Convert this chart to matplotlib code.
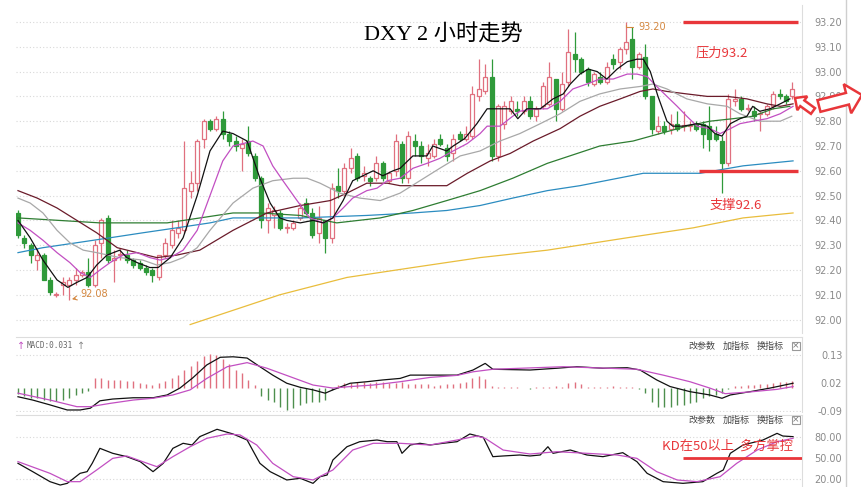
import matplotlib
matplotlib.use("Agg")
import matplotlib.pyplot as plt
from matplotlib.patches import FancyArrow, Rectangle
from matplotlib.transforms import IdentityTransform

plt.rcParams['font.family'] = ['DejaVu Sans', 'Noto Sans CJK SC']
CJK = ['Noto Sans CJK SC', 'DejaVu Sans']

# 2h candles, oldest first (open, high, low, close)
opens = [92.43, 92.33, 92.30, 92.24, 92.26, 92.16, 92.10, 92.14, 92.14, 92.16,
         92.18, 92.19, 92.14, 92.31, 92.41, 92.24, 92.26, 92.26, 92.24, 92.23,
         92.21, 92.20, 92.17, 92.26, 92.30, 92.35, 92.36, 92.52, 92.55, 92.73,
         92.80, 92.77, 92.81, 92.75, 92.72, 92.69, 92.72, 92.66, 92.57, 92.40,
         92.42, 92.43, 92.37, 92.37, 92.41, 92.47, 92.43, 92.35, 92.40, 92.33,
         92.54, 92.52, 92.61, 92.66, 92.58, 92.57, 92.57, 92.63, 92.56, 92.60,
         92.71, 92.57, 92.72, 92.70, 92.65, 92.66, 92.73, 92.69, 92.67, 92.75,
         92.73, 92.74, 92.90, 92.92, 92.98, 92.66, 92.79, 92.84, 92.85, 92.84,
         92.88, 92.82, 92.86, 92.87, 92.97, 92.85, 92.96, 93.07, 93.05, 93.01,
         92.95, 92.98, 92.96, 93.05, 93.04, 93.09, 93.13, 93.02, 93.06, 92.90,
         92.76, 92.78, 92.77, 92.79, 92.78, 92.78, 92.79, 92.79, 92.78, 92.75,
         92.72, 92.63, 92.88, 92.89, 92.85, 92.84, 92.83, 92.83, 92.86, 92.91,
         92.90, 92.90]
highs = [92.44, 92.34, 92.31, 92.29, 92.27, 92.17, 92.11, 92.17, 92.17, 92.21,
         92.20, 92.25, 92.32, 92.41, 92.42, 92.28, 92.29, 92.28, 92.25, 92.24,
         92.22, 92.21, 92.26, 92.33, 92.40, 92.40, 92.72, 92.60, 92.73, 92.81,
         92.81, 92.82, 92.84, 92.76, 92.74, 92.73, 92.78, 92.67, 92.58, 92.47,
         92.46, 92.44, 92.39, 92.40, 92.47, 92.49, 92.45, 92.46, 92.40, 92.55,
         92.61, 92.63, 92.69, 92.67, 92.62, 92.58, 92.66, 92.64, 92.60, 92.75,
         92.72, 92.76, 92.75, 92.72, 92.71, 92.73, 92.75, 92.71, 92.75, 92.76,
         92.78, 92.94, 93.05, 93.03, 93.05, 92.87, 92.88, 92.90, 92.88, 92.90,
         92.90, 92.86, 92.96, 93.04, 92.97, 93.00, 93.17, 93.16, 93.06, 93.02,
         93.00, 93.00, 93.04, 93.07, 93.10, 93.20, 93.18, 93.08, 93.11, 92.90,
         92.82, 92.80, 92.83, 92.84, 92.84, 92.80, 92.80, 92.80, 92.86, 92.78,
         92.74, 92.91, 92.93, 92.90, 92.87, 92.86, 92.84, 92.87, 92.92, 92.93,
         92.91, 92.96]
lows = [92.33, 92.29, 92.23, 92.20, 92.16, 92.10, 92.09, 92.10, 92.08, 92.14,
        92.17, 92.13, 92.13, 92.25, 92.23, 92.15, 92.24, 92.23, 92.21, 92.20,
        92.18, 92.15, 92.16, 92.25, 92.29, 92.33, 92.35, 92.49, 92.52, 92.69,
        92.76, 92.76, 92.73, 92.70, 92.68, 92.60, 92.66, 92.56, 92.37, 92.35,
        92.37, 92.36, 92.35, 92.36, 92.40, 92.42, 92.33, 92.31, 92.27, 92.31,
        92.49, 92.50, 92.59, 92.56, 92.56, 92.54, 92.56, 92.56, 92.55, 92.58,
        92.55, 92.55, 92.66, 92.63, 92.62, 92.65, 92.70, 92.64, 92.64, 92.72,
        92.72, 92.73, 92.88, 92.91, 92.64, 92.64, 92.77, 92.83, 92.82, 92.83,
        92.81, 92.80, 92.85, 92.86, 92.80, 92.84, 92.94, 93.00, 92.99, 92.94,
        92.94, 92.95, 92.95, 93.01, 93.01, 93.07, 92.97, 93.01, 92.89, 92.75,
        92.75, 92.75, 92.75, 92.76, 92.76, 92.76, 92.76, 92.69, 92.68, 92.72,
        92.51, 92.62, 92.86, 92.84, 92.84, 92.80, 92.76, 92.82, 92.85, 92.89,
        92.87, 92.89]
closes = [92.34, 92.31, 92.26, 92.26, 92.16, 92.11, 92.101, 92.15, 92.16, 92.18,
          92.19, 92.14, 92.30, 92.40, 92.24, 92.25, 92.261, 92.24, 92.22, 92.21,
          92.19, 92.18, 92.26, 92.31, 92.36, 92.37, 92.53, 92.55, 92.72, 92.80,
          92.77, 92.81, 92.75, 92.72, 92.70, 92.71, 92.67, 92.57, 92.40, 92.45,
          92.44, 92.37, 92.371, 92.39, 92.45, 92.43, 92.34, 92.41, 92.33, 92.53,
          92.52, 92.61, 92.65, 92.57, 92.59, 92.56, 92.63, 92.57, 92.59, 92.72,
          92.57, 92.74, 92.70, 92.66, 92.67, 92.71, 92.71, 92.66, 92.73, 92.73,
          92.75, 92.91, 92.93, 92.98, 92.66, 92.86, 92.86, 92.88, 92.84, 92.88,
          92.82, 92.85, 92.94, 92.98, 92.85, 92.95, 93.08, 93.05, 93.00, 92.96,
          92.99, 92.96, 93.02, 93.03, 93.09, 93.12, 93.02, 93.07, 92.90, 92.77,
          92.78, 92.76, 92.79, 92.77, 92.781, 92.785, 92.77, 92.75, 92.73, 92.73,
          92.63, 92.89, 92.89, 92.85, 92.851, 92.82, 92.831, 92.86, 92.91, 92.90,
          92.88, 92.93]

# moving averages: (candle index, price)
ma5 = [(0, 92.40), (1.9, 92.33), (3.9, 92.24), (6.1, 92.16), (7.8, 92.13), (9.2, 92.15),
       (10.8, 92.17), (12.3, 92.22), (13.9, 92.26), (15.9, 92.28), (17.0, 92.25),
       (18.6, 92.23), (20.6, 92.21), (21.9, 92.21), (23.8, 92.25), (25.8, 92.33),
       (28.0, 92.50), (30.0, 92.68), (32.0, 92.76), (33.6, 92.75), (35.8, 92.72),
       (37.8, 92.57), (39.4, 92.47), (40.9, 92.41), (42.0, 92.40), (44.1, 92.39),
       (46.1, 92.40), (47.7, 92.39), (49.2, 92.41), (50.8, 92.48), (52.3, 92.56),
       (53.9, 92.58), (55.5, 92.60), (57.0, 92.58), (58.6, 92.60), (59.7, 92.61),
       (61.7, 92.66), (63.9, 92.66), (64.8, 92.70), (67.0, 92.68), (68.0, 92.70),
       (69.8, 92.73), (71.7, 92.79), (73.3, 92.85), (75.3, 92.85), (76.9, 92.85),
       (78.1, 92.81), (79.5, 92.85), (81.6, 92.85), (83.6, 92.89), (85.2, 92.91),
       (86.3, 92.95), (87.8, 92.99), (89.1, 93.01), (90.5, 93.00), (92.0, 92.97),
       (93.6, 93.01), (95.2, 93.04), (96.7, 93.05), (97.7, 93.05), (98.8, 93.00),
       (100.0, 92.90), (101.4, 92.80), (102.3, 92.78), (103.9, 92.78), (106.1, 92.79),
       (107.7, 92.78), (108.9, 92.75), (110.0, 92.74), (111.3, 92.79), (112.8, 92.81),
       (113.9, 92.82), (114.8, 92.86), (115.9, 92.84), (117.5, 92.85), (119.1, 92.87),
       (120.6, 92.89)]
ma10 = [(0, 92.39), (1.9, 92.36), (3.9, 92.32), (6.1, 92.27), (8.1, 92.23), (9.7, 92.19),
        (11.3, 92.17), (12.8, 92.20), (14.4, 92.23), (16.4, 92.26), (18.6, 92.27),
        (20.6, 92.25), (22.2, 92.24), (23.8, 92.25), (25.8, 92.28), (28.0, 92.36),
        (30.0, 92.50), (32.0, 92.64), (33.6, 92.70), (35.2, 92.71), (36.7, 92.72),
        (38.3, 92.70), (39.8, 92.62), (41.4, 92.56), (43.6, 92.48), (45.6, 92.41),
        (47.7, 92.39), (49.2, 92.41), (50.8, 92.45), (52.3, 92.49), (54.5, 92.52),
        (56.1, 92.53), (57.7, 92.56), (59.7, 92.57), (61.7, 92.61), (63.9, 92.63),
        (65.9, 92.65), (68.0, 92.68), (70.2, 92.71), (72.2, 92.75), (73.3, 92.78),
        (75.3, 92.78), (77.3, 92.82), (78.4, 92.84), (80.5, 92.85), (82.7, 92.85),
        (84.7, 92.88), (86.7, 92.93), (88.9, 92.95), (90.9, 92.97), (93.0, 92.97),
        (95.2, 92.99), (96.7, 92.99), (98.3, 92.98), (99.8, 92.94), (101.4, 92.90),
        (103.0, 92.86), (104.5, 92.82), (106.1, 92.78), (108.1, 92.77), (109.7, 92.75),
        (111.3, 92.77), (112.8, 92.79), (114.8, 92.80), (117.0, 92.81), (119.1, 92.83),
        (121.1, 92.86)]
ma20 = [(0, 92.49), (1.9, 92.47), (3.9, 92.43), (6.1, 92.36), (8.1, 92.31), (10.2, 92.28),
        (12.3, 92.27), (15.9, 92.25), (19.5, 92.24), (21.7, 92.22), (23.8, 92.23),
        (25.8, 92.25), (28.0, 92.29), (30.0, 92.36), (33.6, 92.47), (36.7, 92.53),
        (39.8, 92.56), (43.0, 92.57), (45.2, 92.57), (47.2, 92.55), (50.3, 92.51),
        (53.4, 92.49), (56.6, 92.48), (59.7, 92.51), (62.8, 92.56), (65.9, 92.61),
        (69.1, 92.66), (72.2, 92.68), (75.3, 92.72), (78.4, 92.75), (81.6, 92.79),
        (84.7, 92.83), (87.8, 92.88), (90.9, 92.91), (94.1, 92.93), (97.2, 92.94),
        (99.2, 92.95), (101.4, 92.93), (104.5, 92.89), (107.7, 92.87), (110.8, 92.86),
        (112.8, 92.83), (115.9, 92.80), (119.1, 92.80), (120.9, 92.82)]
ma30 = [(0, 92.52), (3.0, 92.49), (6.1, 92.45), (9.2, 92.40), (12.3, 92.35), (15.5, 92.29),
        (18.6, 92.27), (21.7, 92.25), (24.8, 92.26), (28.4, 92.28), (33.6, 92.36),
        (38.9, 92.43), (44.1, 92.46), (48.8, 92.48), (51.4, 92.51), (54.5, 92.55),
        (57.7, 92.55), (59.7, 92.54), (67.0, 92.54), (70.2, 92.59), (73.8, 92.64),
        (76.9, 92.67), (80.5, 92.72), (84.7, 92.77), (87.8, 92.82), (90.9, 92.86),
        (94.1, 92.89), (97.2, 92.92), (99.2, 92.93), (101.4, 92.92), (104.5, 92.91),
        (107.7, 92.90), (110.8, 92.90), (113.9, 92.89), (117.0, 92.87), (119.1, 92.86),
        (121.1, 92.87)]
ma60 = [(0, 92.41), (12.8, 92.39), (23.3, 92.39), (33.6, 92.43), (37.8, 92.43),
        (44.1, 92.42), (49.8, 92.39), (56.6, 92.41), (61.7, 92.44), (67.0, 92.48),
        (72.2, 92.52), (77.3, 92.57), (82.7, 92.63), (90.9, 92.70), (96.1, 92.72),
        (100.3, 92.75), (104.5, 92.78), (108.1, 92.80), (111.7, 92.81), (114.8, 92.82),
        (118.0, 92.85), (120.6, 92.86)]
ma120 = [(0, 92.27), (3.9, 92.29), (9.2, 92.31), (14.4, 92.33), (19.5, 92.35),
         (24.8, 92.37), (30.0, 92.39), (33.6, 92.41), (44.1, 92.41), (54.5, 92.42),
         (61.7, 92.43), (67.0, 92.44), (72.2, 92.46), (77.3, 92.49), (82.7, 92.52),
         (87.8, 92.54), (97.7, 92.59), (106.6, 92.59), (113.3, 92.62), (121.1, 92.64)]
ma250 = [(26.9, 91.98), (40.9, 92.10), (51.4, 92.17), (61.7, 92.21), (72.2, 92.25),
         (82.7, 92.28), (95.2, 92.33), (105.5, 92.37), (113.3, 92.41), (121.1, 92.43)]

# MACD histogram, one bar per candle
macd_hist = [-0.025, -0.03, -0.04, -0.04, -0.047, -0.05, -0.05, -0.047, -0.04, -0.027,
             -0.02, -0.012, 0.04, 0.04, 0.033, 0.033, 0.033, 0.027, 0.027, 0.02,
             0.016, 0.013, 0.02, 0.027, 0.04, 0.053, 0.073, 0.087, 0.107, 0.127,
             0.133, 0.13, 0.113, 0.093, 0.073, 0.06, 0.033, 0.013, -0.033, -0.047,
             -0.053, -0.073, -0.087, -0.08, -0.067, -0.06, -0.053, -0.053, -0.047, -0.007,
             0.013, 0.02, 0.02, 0.022, 0.022, 0.02, 0.022, 0.022, 0.02, 0.02,
             0.022, 0.018, 0.015, 0.018, 0.015, 0.01, 0.012, 0.015, 0.018, 0.02,
             0.025, 0.04, 0.047, 0.035, 0.008, 0.005, 0.006, 0.004, 0.003, 0.002,
             -0.003, 0.004, 0.006, 0.005, 0.008, 0.005, 0.02, 0.022, 0.018, 0.006,
             0.005, 0.004, 0.006, 0.007, 0.006, 0.004, 0.003, -0.005, -0.02, -0.053,
             -0.073, -0.075, -0.073, -0.066, -0.066, -0.059, -0.053, -0.04, -0.033, -0.027,
             -0.02, -0.005, 0.008, 0.01, 0.012, 0.013, 0.015, 0.018, 0.02, 0.022,
             0.025, 0.027]
macd_dif = [(0, -0.034), (2.3, -0.047), (5.0, -0.066), (7.7, -0.086), (9.7, -0.086),
            (11.3, -0.079), (12.8, -0.05), (14.8, -0.043), (18.0, -0.038), (21.1, -0.038),
            (23.3, -0.027), (25.3, 0.0), (27.3, 0.04), (29.5, 0.091), (31.6, 0.121),
            (33.6, 0.123), (35.8, 0.118), (37.8, 0.084), (39.8, 0.051), (42.0, 0.019),
            (44.1, 0.003), (46.1, -0.007), (48.0, -0.02), (49.2, -0.007), (51.9, 0.019),
            (54.5, 0.025), (57.0, 0.032), (59.7, 0.038), (61.3, 0.051), (64.4, 0.051),
            (68.6, 0.051), (71.1, 0.071), (73.0, 0.097), (74.2, 0.074), (80.0, 0.071),
            (84.2, 0.078), (87.3, 0.084), (91.4, 0.078), (95.2, 0.080), (97.2, 0.071),
            (99.8, 0.032), (101.9, 0.006), (105.0, -0.014), (108.1, -0.027), (110.0, -0.040),
            (111.3, -0.027), (114.4, -0.014), (117.5, 0.0), (121.1, 0.019)]
macd_dea = [(0, -0.02), (5.0, -0.047), (9.2, -0.073), (11.3, -0.073), (14.4, -0.06),
            (18.0, -0.047), (21.1, -0.04), (24.2, -0.027), (26.9, -0.007), (29.5, 0.038),
            (32.7, 0.084), (35.8, 0.1), (38.9, 0.078), (42.5, 0.045), (46.1, 0.012),
            (49.2, 0.0), (51.9, 0.006), (55.5, 0.012), (59.7, 0.025), (64.4, 0.042),
            (68.6, 0.05), (71.1, 0.064), (74.2, 0.074), (85.2, 0.084), (96.7, 0.074),
            (100.8, 0.051), (105.0, 0.025), (108.1, 0.0), (110.5, -0.022), (114.4, -0.015),
            (118.6, -0.005), (121.1, 0.006)]

# KD
kd_k = [(0, 42.4), (2.3, 30.5), (5.0, 16.2), (6.6, 11.4), (7.7, 13.8), (9.7, 28.1),
        (10.8, 30.5), (11.6, 42.4), (12.8, 63.8), (14.8, 56.7), (17.0, 51.9), (19.1, 44.8),
        (21.1, 30.5), (22.7, 42.4), (24.2, 63.8), (25.8, 71.0), (27.2, 68.6), (28.4, 80.5),
        (31.1, 91.0), (33.6, 84.3), (35.8, 75.7), (37.8, 42.4), (39.4, 30.5), (42.0, 18.6),
        (44.1, 21.0), (46.1, 13.8), (47.2, 23.3), (48.3, 25.7), (49.2, 47.1), (51.4, 66.1),
        (53.4, 73.3), (56.1, 75.7), (57.7, 73.3), (59.2, 73.3), (60.0, 56.7), (61.3, 68.6),
        (62.8, 71.0), (64.4, 68.6), (66.4, 71.0), (68.6, 73.3), (70.6, 84.3), (72.7, 79.5),
        (74.2, 51.9), (75.8, 52.9), (78.4, 54.3), (80.0, 52.9), (81.6, 54.3), (82.8, 66.1),
        (83.6, 56.7), (86.3, 61.4), (88.9, 54.3), (91.4, 51.9), (94.5, 57.6), (96.7, 44.8),
        (98.3, 28.1), (100.8, 16.2), (103.9, 13.8), (107.0, 16.2), (109.2, 28.1),
        (110.2, 32.9), (111.3, 56.7), (113.3, 68.6), (116.4, 75.7), (118.6, 85.2),
        (119.5, 81.4), (121.1, 80.5)]
kd_d = [(0, 44.8), (5.0, 28.1), (7.7, 16.2), (9.7, 16.2), (12.3, 32.9), (14.8, 49.5),
        (17.0, 52.9), (20.2, 42.4), (21.7, 37.6), (24.2, 51.9), (26.9, 66.1), (29.5, 78.1),
        (32.7, 84.3), (34.7, 82.9), (37.3, 68.6), (39.8, 42.4), (43.0, 23.3), (46.1, 18.6),
        (49.2, 32.9), (52.3, 61.4), (55.5, 71.0), (59.7, 71.0), (64.4, 68.6), (68.6, 75.7),
        (71.7, 81.4), (73.0, 78.1), (75.8, 61.4), (80.0, 55.7), (84.2, 59.0), (88.9, 56.7),
        (93.6, 54.3), (96.7, 49.5), (99.8, 30.5), (103.0, 18.6), (106.1, 16.2),
        (109.7, 23.3), (112.3, 42.4), (115.5, 61.4), (118.6, 73.3), (121.1, 78.1)]

price_ticks = [92.00, 92.10, 92.20, 92.30, 92.40, 92.50, 92.60, 92.70, 92.80, 92.90,
               93.00, 93.10, 93.20]
macd_ticks = [0.13, 0.02, -0.09]
kd_ticks = [80.0, 50.0, 20.0]
resistance = 93.2
support = 92.6
kd_level = 50.0
high_mark = (95, 93.20)
low_mark = (8, 92.08)

W, H = 862, 487
UP = '#e0707f'
DOWN = '#2f9a3a'
RED = '#e8363a'
GRID = '#d8d8d8'


def fx(x):
    return x / W


def fy(y):
    return 1 - y / H


fig = plt.figure(figsize=(W / 100, H / 100), dpi=100)
fig.patch.set_facecolor('white')

left, right = 16, 802
ax = fig.add_axes([fx(left), fy(333), (right - left) / W, 328 / H])
ax_m = fig.add_axes([fx(left), fy(412), (right - left) / W, 75 / H])
ax_k = fig.add_axes([fx(left), fy(487), (right - left) / W, 72 / H])

xlim = (-0.31, 122.5)
n = len(opens)
xs = list(range(n))

# candles
for i in xs:
    o, h, l, c = opens[i], highs[i], lows[i], closes[i]
    up = c >= o
    col = UP if up else DOWN
    ax.vlines(i, l, h, color=col, lw=0.9, zorder=3)
    body = max(abs(c - o), 0.003)
    ax.bar(i, body, width=0.62, bottom=min(o, c), color='white' if up else DOWN,
           edgecolor=col, linewidth=0.9, zorder=4)

ma_styles = [(ma250, '#e9bd3c', 0.9), (ma120, '#2b8cc0', 0.9), (ma60, '#2e7d32', 0.9),
             (ma30, '#6a1b2a', 0.9), (ma20, '#a8a8a8', 0.9), (ma10, '#c24fc2', 0.9),
             (ma5, '#111111', 0.9)]
for pts, col, lw in ma_styles:
    ax.plot([p[0] for p in pts], [p[1] for p in pts], color=col, lw=lw, zorder=5)

ax.set_xlim(*xlim)
ax.set_ylim(93.20 - 311 / 248, 93.20 + 17 / 248)
ax.set_yticks(price_ticks)
ax.set_yticklabels([f'{t:.2f}' for t in price_ticks])
ax.grid(axis='y', color=GRID, ls=(0, (1, 2)), lw=0.8)

ax.hlines(resistance, 103.9, 121.9, color=RED, lw=2.4, zorder=6)
ax.hlines(support, 106.4, 121.9, color=RED, lw=2.4, zorder=6)
ax.text(110.0, 93.075, '压力93.2', color=RED, fontsize=9.5, ha='center', va='center',
        family=CJK)
ax.text(112.2, 92.462, '支撑92.6', color=RED, fontsize=9.5, ha='center', va='center',
        family=CJK)
ax.annotate('93.20', xy=high_mark, xytext=(96.9, 93.18), color='#d4873f', fontsize=7,
            va='center', arrowprops=dict(arrowstyle='-', color='#d4873f', lw=0.8,
                                         connectionstyle='angle,angleA=0,angleB=90,rad=0'))
ax.annotate('92.08', xy=low_mark, xytext=(9.8, 92.103), color='#d4873f', fontsize=7,
            va='center', arrowprops=dict(arrowstyle='->', color='#d4873f', lw=0.8))

# MACD panel
ax_m.vlines(xs, 0, macd_hist, colors=[UP if v >= 0 else '#4d8f4d' for v in macd_hist],
            lw=1.0)
ax_m.plot([p[0] for p in macd_dif], [p[1] for p in macd_dif], color='#111111', lw=0.9)
ax_m.plot([p[0] for p in macd_dea], [p[1] for p in macd_dea], color='#c24fc2', lw=0.9)
ax_m.set_xlim(*xlim)
ax_m.set_ylim(0.02 - 29 * 0.003929, 0.02 + 46 * 0.003929)
ax_m.set_yticks(macd_ticks)
ax_m.set_yticklabels(['0.13', '0.02', '-0.09'])
for v in (0.13, -0.09):
    ax_m.axhline(v, color=GRID, ls=(0, (1, 2)), lw=0.8, zorder=0)

# KD panel
ax_k.plot([p[0] for p in kd_k], [p[1] for p in kd_k], color='#111111', lw=0.9)
ax_k.plot([p[0] for p in kd_d], [p[1] for p in kd_d], color='#c24fc2', lw=0.9)
ax_k.hlines(kd_level, 103.9, 122.5, color=RED, lw=2.0, zorder=6)
ax_k.text(110.8, 67.1, 'KD在50以上  多方掌控', color=RED, fontsize=9.5, ha='center',
          va='center', family=CJK)
ax_k.set_xlim(*xlim)
ax_k.set_ylim(80 - 50 * 1.4286, 80 + 22 * 1.4286)
ax_k.set_yticks(kd_ticks)
ax_k.set_yticklabels(['80.00', '50.00', '20.00'])
for v in (80.0, 20.0):
    ax_k.axhline(v, color=GRID, ls=(0, (1, 2)), lw=0.8, zorder=0)

for a in (ax, ax_m, ax_k):
    a.set_facecolor('none')
    a.set_xticks([])
    a.yaxis.tick_right()
    a.tick_params(axis='y', length=0, pad=29, labelsize=7, labelcolor='#8a8a8a')
    for lbl in a.get_yticklabels():
        lbl.set_ha('right')
    for s in ('left', 'bottom', 'top'):
        a.spines[s].set_visible(False)
    a.spines['right'].set_color('#dddddd')
for a in (ax_m, ax_k):
    a.spines['top'].set_visible(True)
    a.spines['top'].set_color('#dddddd')

# outer frame line on the right
fig.add_artist(plt.Line2D([fx(846), fx(846)], [0, 1], color='#cfcfcf', lw=1.0))

# title
fig.text(fx(443), fy(35), 'DXY 2 小时走势', ha='center', va='center', fontsize=16,
         family=['Liberation Serif', 'Noto Sans CJK SC'])

# panel headers
fig.text(fx(17), fy(346), '↑', color='#c24fc2', fontsize=7, va='center')
fig.text(fx(27), fy(346), 'MACD:0.031', color='#666666', fontsize=5.5, va='center',
         family='DejaVu Sans Mono')
fig.text(fx(77), fy(346), '↑', color='#888888', fontsize=7, va='center')
for yy in (346, 420):
    for xx, s in ((688, '改参数'), (723, '加指标'), (757, '换指标')):
        fig.text(fx(xx), fy(yy), s, color='#444444', fontsize=6.5, va='center', family=CJK)
    fig.add_artist(Rectangle((792, H - yy - 4), 8, 8, transform=IdentityTransform(),
                             fill=False, ec='#999999', lw=0.8))
    fig.text(fx(796), fy(yy), '×', color='#777777', fontsize=6.5, ha='center', va='center')

# hollow red arrows at the right edge
fig.add_artist(FancyArrow(813, H - 111, -18, 13, width=7, head_width=17, head_length=9,
                          length_includes_head=True, transform=IdentityTransform(),
                          fc='white', ec=RED, lw=1.8, zorder=10))
fig.add_artist(FancyArrow(819, H - 106, 43, -11 * -1, width=12, head_width=30,
                          head_length=15, length_includes_head=True,
                          transform=IdentityTransform(), fc='white', ec=RED, lw=1.8,
                          zorder=10))

fig.savefig('out.png', dpi=100, facecolor='white')
